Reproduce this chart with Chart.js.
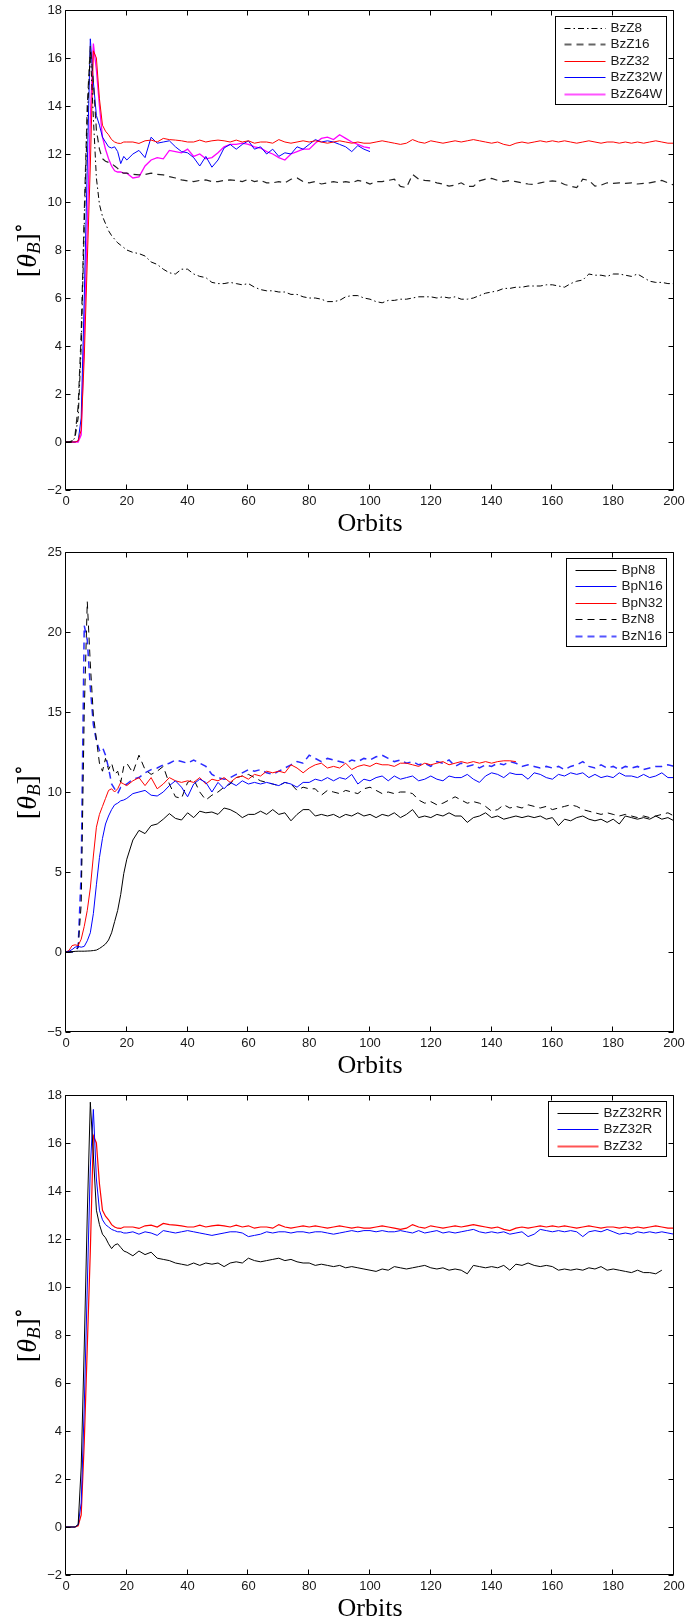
<!DOCTYPE html>
<html>
<head>
<meta charset="utf-8">
<title>Tilt angle of the magnetic field vs. orbits</title>
<script src="https://cdn.jsdelivr.net/npm/chart.js@4.4.1/dist/chart.umd.min.js"></script>
<style>
  html, body { margin: 0; padding: 0; background: #fff; }
  body { width: 686px; height: 1621px; position: relative; overflow: hidden; }
  .panel { position: absolute; left: 0; width: 686px; }
  canvas { display: block; }
</style>
</head>
<body>
<div class="panel" style="top:0;height:543px"><canvas id="c1" width="686" height="543"></canvas></div>
<div class="panel" style="top:542px;height:543px"><canvas id="c2" width="686" height="543"></canvas></div>
<div class="panel" style="top:1085px;height:536px"><canvas id="c3" width="686" height="536"></canvas></div>
<script>
// Sample times (orbits): every orbit up to 20, then every second orbit.
const ORBITS = [
  0,1,2,3,4,5,6,7,8,9,10,11,12,13,14,15,16,17,18,19,20,
  22,24,26,28,30,32,34,36,38,40,
  42,44,46,48,50,52,54,56,58,60,
  62,64,66,68,70,72,74,76,78,80,
  82,84,86,88,90,92,94,96,98,100,
  102,104,106,108,110,112,114,116,118,120,
  122,124,126,128,130,132,134,136,138,140,
  142,144,146,148,150,152,154,156,158,160,
  162,164,166,168,170,172,174,176,178,180,
  182,184,186,188,190,192,194,196,198,200
];

const X_TICKS = [0,20,40,60,80,100,120,140,160,180,200];

// ---- top panel: vertical-field runs ----
const BZZ8 = [
  0,0,0,0.2,1.0,4.0,9.0,13.5,16.3,13.5,11.0,9.9,9.4,9.1,8.8,8.6,8.45,8.3,8.2,8.1,8.0,
  7.9,7.85,7.75,7.5,7.4,7.2,7.05,7.0,7.2,7.2,
  7.0,6.9,6.85,6.65,6.6,6.6,6.65,6.6,6.55,6.6,
  6.45,6.35,6.3,6.3,6.25,6.25,6.15,6.15,6.05,6.0,
  6.0,5.95,5.85,5.85,5.9,6.05,6.1,6.1,6.0,5.95,
  5.85,5.8,5.9,5.9,5.95,5.95,6.0,6.05,6.05,6.05,
  6.0,6.05,6.0,6.05,5.95,5.95,6.0,6.1,6.2,6.25,
  6.3,6.4,6.4,6.45,6.45,6.5,6.5,6.5,6.55,6.55,
  6.5,6.45,6.6,6.7,6.75,7.0,6.95,6.95,6.9,7.0,
  7.0,6.95,6.9,7.0,6.85,6.7,6.65,6.65,6.6,6.6
];
const BZZ16 = [
  0,0,0.05,0.3,1.5,4.5,9.5,14.0,16.5,15.0,13.0,12.2,11.8,11.7,11.65,11.6,11.5,11.4,11.25,11.2,11.2,
  11.15,11.13,11.15,11.2,11.15,11.13,11.06,11.0,10.92,10.88,
  10.85,10.9,10.92,10.85,10.85,10.9,10.92,10.9,10.85,10.95,
  10.85,10.9,10.8,10.8,10.85,10.8,10.95,11.0,10.85,10.8,
  10.85,10.75,10.8,10.85,10.8,10.85,10.8,10.9,10.85,10.75,
  10.85,10.85,10.9,10.95,10.65,10.6,11.15,10.95,10.9,10.88,
  10.8,10.75,10.66,10.7,10.8,10.65,10.65,10.88,10.95,10.98,
  10.9,10.85,10.9,10.85,10.8,10.75,10.73,10.8,10.85,10.88,
  10.85,10.73,10.66,10.6,10.95,10.9,10.66,10.7,10.8,10.78,
  10.8,10.78,10.8,10.75,10.78,10.8,10.85,10.9,10.8,10.7
];
const BZZ32 = [
  0,0,0,0,0.05,0.5,3.5,7.5,11.5,16.3,16.0,14.3,13.2,12.95,12.8,12.6,12.5,12.45,12.44,12.5,12.5,
  12.5,12.44,12.55,12.58,12.5,12.65,12.6,12.58,12.55,12.5,
  12.5,12.58,12.5,12.55,12.58,12.55,12.5,12.58,12.5,12.55,
  12.45,12.5,12.5,12.45,12.6,12.5,12.45,12.5,12.55,12.5,
  12.55,12.5,12.45,12.5,12.55,12.5,12.45,12.5,12.45,12.45,
  12.5,12.55,12.5,12.45,12.4,12.45,12.6,12.5,12.45,12.55,
  12.5,12.45,12.5,12.55,12.5,12.55,12.6,12.55,12.5,12.45,
  12.5,12.4,12.35,12.45,12.5,12.45,12.5,12.55,12.5,12.55,
  12.5,12.55,12.5,12.45,12.5,12.55,12.5,12.45,12.5,12.5,
  12.45,12.5,12.45,12.5,12.45,12.5,12.55,12.5,12.45,12.45
];
const BZZ32W = [
  0,0,0,0,0.05,1.0,6.0,11.5,16.8,15.0,13.6,13.2,12.7,12.5,12.3,12.25,12.3,12.1,11.6,11.9,11.75,
  12.0,12.15,11.85,12.7,12.45,12.5,12.55,12.3,12.1,12.05,
  11.85,11.5,11.9,11.45,11.75,12.25,12.4,12.2,12.4,12.55,
  12.2,12.3,12.0,12.2,11.9,12.05,12.0,12.3,12.2,12.4,
  12.6,12.5,12.55,12.5,12.4,12.3,12.1,12.35,12.2,12.1
];
const BZZ64W = [
  0,0,0,0,0,0.3,4.5,9.0,13.5,16.6,15.5,14.0,12.7,12.2,11.8,11.5,11.3,11.25,11.25,11.2,11.2,
  11.0,11.05,11.5,11.75,11.85,11.8,12.15,12.1,12.05,12.2,
  11.9,12.0,11.8,11.85,12.05,12.3,12.4,12.4,12.45,12.4,
  12.3,12.25,12.1,12.0,11.85,11.75,12.0,12.1,12.2,12.2,
  12.45,12.65,12.7,12.6,12.8,12.65,12.5,12.4,12.3,12.25
];

// ---- middle panel: net-flux runs ----
const BPN8 = [
  0,0,0.02,0.04,0.05,0.05,0.05,0.06,0.07,0.09,0.12,0.22,0.35,0.5,0.75,1.2,1.9,2.6,3.6,4.9,5.8,
  7.0,7.6,7.4,7.9,8.0,8.3,8.65,8.35,8.25,8.7,
  8.4,8.8,8.7,8.75,8.6,9.0,8.9,8.7,8.4,8.6,
  8.6,8.8,8.6,8.9,8.6,8.7,8.2,8.6,8.9,8.9,
  8.5,8.6,8.5,8.6,8.4,8.6,8.5,8.7,8.5,8.6,
  8.4,8.6,8.5,8.7,8.4,8.6,8.9,8.4,8.5,8.4,
  8.6,8.5,8.7,8.5,8.5,8.1,8.4,8.5,8.7,8.4,
  8.5,8.3,8.4,8.5,8.4,8.5,8.4,8.5,8.3,8.4,
  7.9,8.3,8.2,8.4,8.5,8.3,8.2,8.3,8.1,8.3,
  8.0,8.5,8.4,8.3,8.4,8.3,8.5,8.3,8.4,8.2
];
const BPN16 = [
  0,0.05,0.15,0.3,0.35,0.3,0.35,0.7,1.2,2.4,4.2,5.9,7.1,8.0,8.5,8.9,9.2,9.3,9.45,9.5,9.6,
  9.9,10.0,10.1,9.8,9.75,10.0,10.4,10.7,10.3,9.7,
  10.5,10.8,10.6,10.0,10.6,10.2,10.6,10.4,10.7,10.5,
  10.6,10.5,10.6,10.5,10.4,10.6,10.5,10.3,10.6,10.6,
  10.8,10.7,10.9,10.7,10.9,10.8,11.1,10.5,10.8,10.7,
  10.9,11.0,10.7,11.0,10.8,10.9,11.0,10.7,10.8,11.0,
  10.8,10.7,11.0,10.9,10.9,11.1,10.8,10.6,11.0,11.2,
  11.1,10.9,11.2,11.1,11.1,10.8,11.2,11.1,10.9,10.8,
  11.1,11.0,11.2,11.1,11.2,10.9,11.1,10.9,11.0,10.9,
  11.2,11.0,11.0,10.9,11.1,10.9,11.0,11.2,10.9,10.9
];
const BPN32 = [
  0,0.1,0.4,0.45,0.4,0.8,1.6,2.6,4.0,6.0,7.8,8.6,9.1,9.6,10.1,10.2,10.0,10.2,10.6,10.5,10.4,
  10.7,10.9,10.4,10.9,10.2,10.5,10.9,10.7,10.6,10.7,
  10.6,10.9,10.5,10.8,10.7,10.9,10.6,10.9,11.0,10.8,
  11.1,11.0,11.3,11.2,11.3,11.2,11.7,11.5,11.2,11.5,
  11.7,11.8,11.5,11.6,11.5,11.8,11.4,11.6,11.7,11.6,
  11.8,11.7,11.7,11.6,11.8,11.8,11.7,11.6,11.8,11.7,
  11.8,11.9,11.7,11.8,11.9,11.8,11.9,11.8,11.9,11.8,
  11.9,11.95,11.95,11.9
];
const BZN8 = [
  0,0,0,0.05,0.3,3.0,15.0,21.9,18.0,14.8,13.3,11.8,11.3,12.1,11.4,11.8,11.1,11.3,10.6,11.6,11.8,
  11.2,12.3,11.4,11.1,11.3,11.6,10.5,9.7,9.6,10.6,
  10.8,10.0,9.5,9.8,10.0,10.3,10.5,10.9,11.0,11.1,
  10.9,10.7,10.6,10.5,10.4,10.6,10.5,10.1,10.3,10.2,
  10.2,9.8,10.1,10.0,9.9,10.1,10.0,9.9,10.2,10.3,
  10.1,9.9,10.0,9.9,10.0,10.0,9.9,9.5,9.3,9.4,
  9.2,9.3,9.5,9.7,9.5,9.3,9.4,9.3,9.1,8.8,
  8.9,9.2,9.0,9.1,9.0,9.2,9.1,9.0,9.1,8.9,
  9.0,9.1,9.2,9.1,8.9,8.8,8.7,8.6,8.7,8.6,
  8.5,8.6,8.5,8.4,8.5,8.4,8.5,8.6,8.7,8.5
];
const BZN16 = [
  0,0,0,0.05,0.3,5.0,20.4,19.5,16.5,14.2,13.2,12.6,12.8,12.3,11.5,10.5,10.2,9.9,10.3,10.4,10.5,
  10.8,10.9,11.2,11.4,11.5,11.7,11.8,12.0,11.9,11.8,
  12.0,11.8,11.6,11.1,10.9,10.8,10.9,11.1,11.2,11.4,
  11.3,11.4,11.2,11.1,11.3,11.5,11.7,11.9,11.8,12.3,
  12.1,11.9,12.1,12.0,11.9,11.8,12.0,11.9,12.1,12.0,
  12.2,12.3,12.1,11.9,12.0,11.8,11.9,11.7,11.8,11.6,
  11.9,11.8,12.0,11.6,11.8,11.6,11.7,11.5,11.7,11.6,
  11.8,11.7,11.9,11.8,11.6,11.7,11.6,11.5,11.6,11.5,
  11.6,11.4,11.6,11.7,11.9,11.6,11.5,11.7,11.5,11.6,
  11.4,11.6,11.5,11.6,11.4,11.5,11.6,11.6,11.7,11.6
];

// ---- bottom panel: resistivity runs ----
const BZZ32RR = [
  0,0,0,0,0.1,2.5,7.5,13.0,17.7,15.5,13.2,12.6,12.2,12.05,11.8,11.6,11.75,11.8,11.65,11.5,11.45,
  11.3,11.5,11.35,11.45,11.2,11.15,11.1,11.0,10.95,10.9,
  11.0,10.9,11.0,10.95,11.0,10.85,11.0,11.05,11.0,11.2,
  11.1,11.05,11.1,11.15,11.2,11.1,11.15,11.05,11.0,11.0,
  10.9,10.95,10.9,10.85,10.9,10.8,10.85,10.8,10.75,10.7,
  10.65,10.75,10.7,10.85,10.8,10.75,10.8,10.85,10.9,10.8,
  10.75,10.8,10.7,10.75,10.7,10.55,10.9,10.85,10.8,10.85,
  10.8,10.9,10.7,10.95,10.9,11.0,10.9,10.85,10.9,10.85,
  10.7,10.75,10.7,10.75,10.7,10.8,10.75,10.85,10.7,10.75,
  10.7,10.65,10.6,10.7,10.6,10.6,10.55,10.7
];
const BZZ32R = [
  0,0,0,0,0.1,1.0,5.0,10.0,15.0,17.4,14.5,13.2,12.8,12.6,12.5,12.4,12.35,12.3,12.3,12.25,12.25,
  12.3,12.2,12.3,12.25,12.15,12.35,12.3,12.25,12.3,12.35,
  12.3,12.25,12.2,12.15,12.2,12.25,12.3,12.3,12.25,12.1,
  12.15,12.2,12.3,12.25,12.3,12.3,12.25,12.3,12.3,12.25,
  12.3,12.3,12.25,12.2,12.25,12.3,12.35,12.3,12.35,12.35,
  12.3,12.35,12.3,12.3,12.35,12.3,12.25,12.35,12.25,12.3,
  12.35,12.25,12.3,12.25,12.3,12.35,12.4,12.3,12.25,12.3,
  12.25,12.3,12.2,12.25,12.3,12.1,12.2,12.4,12.35,12.3,
  12.35,12.3,12.35,12.3,12.1,12.3,12.35,12.3,12.4,12.3,
  12.2,12.25,12.2,12.3,12.25,12.3,12.25,12.3,12.25,12.2
];

const TICK_FONT = { family: '"Liberation Sans", Arial, Helvetica, sans-serif', size: 13 };
const LEGEND_FONT = '13.5px "Liberation Sans", Arial, Helvetica, sans-serif';
const TITLE_FAMILY = '"Liberation Serif", "DejaVu Serif", "Times New Roman", serif';
const INK = '#1a1a1a';

function points(values) {
  return values.map((v, i) => ({ x: ORBITS[i], y: v }));
}

// Boxed axes with inward ticks, legend box and LaTeX-style axis labels.
const matlabAxes = {
  id: 'matlabAxes',
  afterDraw(chart) {
    const ctx = chart.ctx;
    const a = chart.chartArea;
    const xs = chart.scales.x, ys = chart.scales.y;
    const L = Math.round(a.left) - 0.5, R = Math.round(a.right) - 0.5;
    const T = Math.round(a.top) + 0.5, B = Math.round(a.bottom) - 0.5;
    ctx.save();

    // frame + inward tick marks on all four sides
    ctx.strokeStyle = '#000';
    ctx.lineWidth = 1;
    ctx.setLineDash([]);
    ctx.beginPath();
    ctx.rect(L, T, R - L, B - T);
    xs.ticks.forEach(t => {
      const p = Math.round(xs.getPixelForValue(t.value)) - 0.5;
      ctx.moveTo(p, B); ctx.lineTo(p, B - 5);
      ctx.moveTo(p, T); ctx.lineTo(p, T + 5);
    });
    ys.ticks.forEach(t => {
      const p = Math.round(ys.getPixelForValue(t.value)) + 0.5;
      ctx.moveTo(L, p); ctx.lineTo(L + 5, p);
      ctx.moveTo(R, p); ctx.lineTo(R - 5, p);
    });
    ctx.stroke();

    // legend
    const ds = chart.data.datasets;
    ctx.font = LEGEND_FONT;
    const tw = Math.max(...ds.map(d => ctx.measureText(d.label).width));
    const boxR = R - 7;
    const boxW = Math.round(9 + 41 + 5 + tw + 4);
    const boxL = boxR - boxW;
    const boxT = T + 6;
    const boxH = Math.round(22 + 16.5 * (ds.length - 1));
    ctx.fillStyle = '#fff';
    ctx.fillRect(boxL, boxT, boxW, boxH);
    ctx.strokeStyle = '#000';
    ctx.lineWidth = 1;
    ctx.strokeRect(boxL, boxT, boxW, boxH);
    ds.forEach((d, i) => {
      const cy = Math.round(boxT + 11 + i * 16.5) + 0.5;
      ctx.beginPath();
      ctx.strokeStyle = d.legendColor || d.borderColor;
      ctx.lineWidth = d.legendWidth || d.borderWidth;
      ctx.setLineDash(d.borderDash || []);
      ctx.moveTo(boxL + 9, cy);
      ctx.lineTo(boxL + 50, cy);
      ctx.stroke();
      ctx.setLineDash([]);
      ctx.fillStyle = INK;
      ctx.textAlign = 'left';
      ctx.textBaseline = 'middle';
      ctx.fillText(d.label, boxL + 55, cy);
    });

    // x-axis label
    ctx.fillStyle = '#000';
    ctx.font = '26px ' + TITLE_FAMILY;
    ctx.textAlign = 'center';
    ctx.textBaseline = 'alphabetic';
    ctx.fillText('Orbits', (a.left + a.right) / 2, a.top + 521);

    // y-axis label: [θ_B]°
    const parts = [
      { t: '[', font: '28px ' + TITLE_FAMILY, dy: 0 },
      { t: 'θ', font: 'italic 28px ' + TITLE_FAMILY, dy: 0 },
      { t: 'B', font: 'italic 19px ' + TITLE_FAMILY, dy: 4 },
      { t: ']', font: '28px ' + TITLE_FAMILY, dy: 0 },
      { t: '∘', font: '21px ' + TITLE_FAMILY, dy: -11 }
    ];
    let total = 0;
    parts.forEach(p => { ctx.font = p.font; p.w = ctx.measureText(p.t).width; total += p.w; });
    ctx.translate(36, (a.top + a.bottom) / 2);
    ctx.rotate(-Math.PI / 2);
    ctx.textAlign = 'left';
    let cx = -total / 2;
    parts.forEach(p => {
      ctx.font = p.font;
      ctx.fillText(p.t, cx, p.dy);
      cx += p.w;
    });
    ctx.restore();
  }
};

function makePanel(id, yMin, yMax, yStep, series) {
  const canvas = document.getElementById(id);
  const H = canvas.height;
  return new Chart(canvas, {
    type: 'line',
    data: {
      datasets: series.map(s => ({
        label: s.label,
        data: points(s.values),
        borderColor: s.color,
        borderWidth: s.width || 1,
        borderDash: s.dash || [],
        legendColor: s.legendColor,
        legendWidth: s.legendWidth,
        pointRadius: 0,
        tension: 0,
        fill: false
      }))
    },
    options: {
      responsive: false,
      animation: false,
      devicePixelRatio: 1,
      events: [],
      layout: { padding: { top: 10, right: 12, left: 0, bottom: 0 } },
      plugins: { legend: { display: false }, tooltip: { enabled: false } },
      scales: {
        x: {
          type: 'linear', min: 0, max: 200,
          afterBuildTicks(s) { s.ticks = X_TICKS.map(v => ({ value: v })); },
          afterFit(s) { s.height = H - 490; s.paddingLeft = 0; s.paddingRight = 0; },
          ticks: { autoSkip: false, maxRotation: 0, font: TICK_FONT, color: INK, padding: 4 },
          grid: { display: false, drawTicks: false },
          border: { display: false }
        },
        y: {
          type: 'linear', min: yMin, max: yMax,
          ticks: {
            stepSize: yStep, font: TICK_FONT, color: INK, padding: 4,
            callback: v => (v < 0 ? '\u2212' + Math.abs(v) : String(v))
          },
          afterFit(s) { s.width = 66; s.paddingTop = 0; s.paddingBottom = 0; },
          grid: { display: false, drawTicks: false },
          border: { display: false }
        }
      }
    },
    plugins: [matlabAxes]
  });
}

makePanel('c1', -2, 18, 2, [
  { label: 'BzZ8',   values: BZZ8,   color: '#000', dash: [6, 3, 1.5, 3] },
  { label: 'BzZ16',  values: BZZ16,  color: '#222', dash: [7, 5], width: 1.2, legendColor: '#666', legendWidth: 2 },
  { label: 'BzZ32',  values: BZZ32,  color: '#ff0000' },
  { label: 'BzZ32W', values: BZZ32W, color: '#0000ff' },
  { label: 'BzZ64W', values: BZZ64W, color: '#ff00ff', width: 1.3, legendColor: '#ff55ff', legendWidth: 2 }
]);

makePanel('c2', -5, 25, 5, [
  { label: 'BpN8',  values: BPN8,  color: '#000' },
  { label: 'BpN16', values: BPN16, color: '#0000ff' },
  { label: 'BpN32', values: BPN32, color: '#ff0000' },
  { label: 'BzN8',  values: BZN8,  color: '#000', dash: [7, 5] },
  { label: 'BzN16', values: BZN16, color: '#2a2aff', dash: [7, 5], width: 1.5, legendColor: '#5555ff', legendWidth: 2 }
]);

makePanel('c3', -2, 18, 2, [
  { label: 'BzZ32RR', values: BZZ32RR, color: '#000' },
  { label: 'BzZ32R',  values: BZZ32R,  color: '#0000ff' },
  { label: 'BzZ32',   values: BZZ32,   color: '#ff0000', width: 1.2, legendColor: '#ff5555', legendWidth: 2 }
]);
</script>
</body>
</html>
